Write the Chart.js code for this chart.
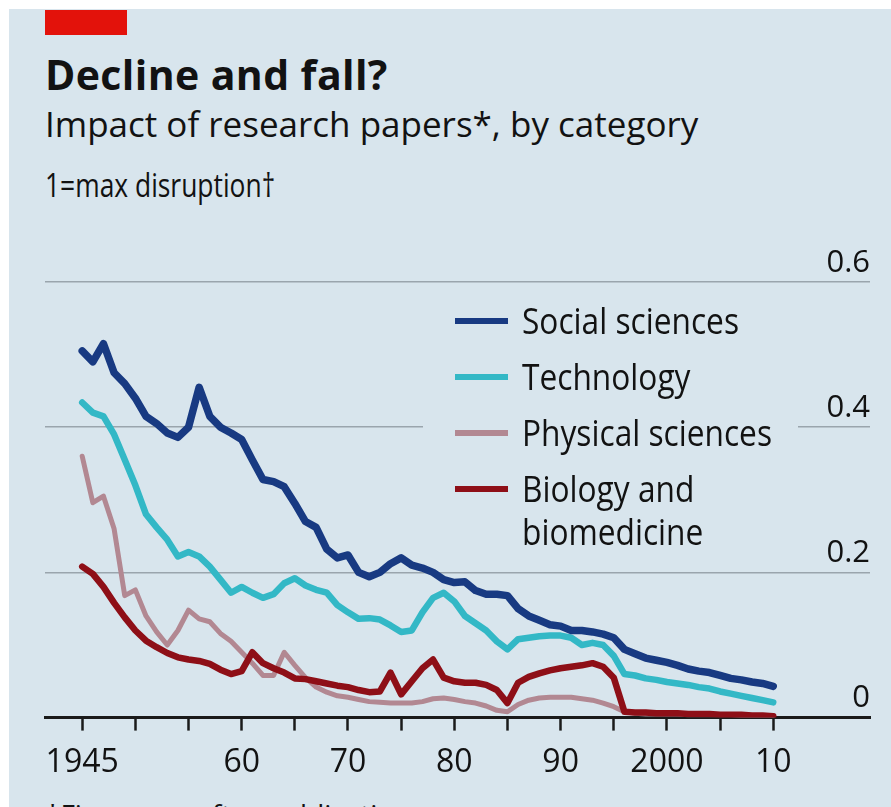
<!DOCTYPE html>
<html lang="en">
<head>
  <meta charset="UTF-8" />
  <title>Decline and fall?</title>
  <script src="https://cdn.jsdelivr.net/npm/chart.js"></script>
  <style>
    body { margin: 0; background: #fff; width: 891px; height: 807px; overflow: hidden; font-family: "Open Sans", sans-serif; }
    #panel { position: absolute; left: 9px; top: 9px; width: 882px; height: 798px; background: #d8e5ed; }
    #redbar { position: absolute; left: 45px; top: 10px; width: 82px; height: 25px; background: #e3120b; }
    .txt { position: absolute; left: 45px; color: #121212; white-space: nowrap; line-height: 1; }
    #title { top: 54px; font-size: 41px; font-weight: 700; letter-spacing: 0.4px; }
    #subtitle { top: 106px; font-size: 35px; }
    #unit { top: 168px; font-size: 33px; transform: scaleX(0.8); transform-origin: left top; }
    #note { top: 800px; font-size: 28px; }
    #chart { position: absolute; left: 0; top: 0; }
  </style>
</head>
<body>
  <div id="panel"></div>
  <div id="redbar"></div>
  <div class="txt" id="title">Decline and fall?</div>
  <div class="txt" id="subtitle">Impact of research papers*, by category</div>
  <div class="txt" id="unit">1=max disruption†</div>
  <div class="txt" id="note">*Five years after publication</div>
  <canvas id="chart" width="891" height="807"></canvas>

  <script>
    // Data (annual, 1945-2010)
    const years = [
      1945, 1946, 1947, 1948, 1949, 1950, 1951, 1952, 1953, 1954, 1955,
      1956, 1957, 1958, 1959, 1960, 1961, 1962, 1963, 1964, 1965, 1966,
      1967, 1968, 1969, 1970, 1971, 1972, 1973, 1974, 1975, 1976, 1977,
      1978, 1979, 1980, 1981, 1982, 1983, 1984, 1985, 1986, 1987, 1988,
      1989, 1990, 1991, 1992, 1993, 1994, 1995, 1996, 1997, 1998, 1999,
      2000, 2001, 2002, 2003, 2004, 2005, 2006, 2007, 2008, 2009, 2010
    ];

    const socialSciences = [
      0.505, 0.490, 0.515, 0.475, 0.460, 0.440, 0.415, 0.405, 0.392, 0.386, 0.400,
      0.455, 0.415, 0.400, 0.392, 0.383, 0.355, 0.328, 0.325, 0.318, 0.295, 0.270,
      0.262, 0.232, 0.220, 0.224, 0.200, 0.194, 0.200, 0.212, 0.220, 0.210, 0.206,
      0.200, 0.190, 0.186, 0.187, 0.175, 0.170, 0.170, 0.168, 0.150, 0.140, 0.134,
      0.128, 0.126, 0.120, 0.120, 0.118, 0.115, 0.110, 0.094, 0.088, 0.082, 0.079,
      0.076, 0.072, 0.067, 0.064, 0.062, 0.058, 0.054, 0.052, 0.049, 0.047, 0.043
    ];

    const technology = [
      0.434, 0.420, 0.415, 0.390, 0.355, 0.320, 0.280, 0.262, 0.245, 0.222, 0.228,
      0.222, 0.208, 0.190, 0.172, 0.180, 0.172, 0.165, 0.170, 0.185, 0.192, 0.182,
      0.176, 0.172, 0.155, 0.145, 0.136, 0.137, 0.135, 0.127, 0.118, 0.120, 0.145,
      0.165, 0.172, 0.160, 0.140, 0.130, 0.120, 0.105, 0.094, 0.108, 0.110, 0.112,
      0.113, 0.113, 0.110, 0.100, 0.103, 0.100, 0.085, 0.060, 0.058, 0.054, 0.052,
      0.049, 0.047, 0.045, 0.042, 0.040, 0.036, 0.033, 0.030, 0.027, 0.024, 0.021
    ];

    const physicalSciences = [
      0.360, 0.296, 0.305, 0.260, 0.168, 0.176, 0.140, 0.118, 0.100, 0.120, 0.148,
      0.136, 0.132, 0.116, 0.105, 0.090, 0.075, 0.058, 0.058, 0.090, 0.072, 0.055,
      0.042, 0.035, 0.030, 0.028, 0.025, 0.022, 0.021, 0.020, 0.020, 0.020, 0.022,
      0.026, 0.027, 0.025, 0.022, 0.020, 0.016, 0.010, 0.008, 0.018, 0.024, 0.027,
      0.028, 0.028, 0.028, 0.026, 0.024, 0.020, 0.015, 0.008, 0.006, 0.005, 0.005,
      0.005, 0.005, 0.004, 0.004, 0.004, 0.004, 0.004, 0.003, 0.003, 0.003, 0.003
    ];

    const biology = [
      0.208, 0.198, 0.180, 0.158, 0.138, 0.120, 0.106, 0.097, 0.089, 0.083, 0.080,
      0.078, 0.074, 0.066, 0.060, 0.064, 0.090, 0.075, 0.068, 0.062, 0.054, 0.053,
      0.050, 0.047, 0.044, 0.042, 0.038, 0.035, 0.036, 0.062, 0.032, 0.050, 0.068,
      0.080, 0.055, 0.050, 0.048, 0.048, 0.045, 0.038, 0.020, 0.048, 0.056, 0.061,
      0.065, 0.068, 0.070, 0.072, 0.075, 0.070, 0.055, 0.008, 0.007, 0.007, 0.006,
      0.006, 0.006, 0.005, 0.005, 0.005, 0.004, 0.004, 0.004, 0.003, 0.003, 0.002
    ];

    const seriesNames = ['Social sciences', 'Technology', 'Physical sciences', ['Biology and', 'biomedicine']];
    const seriesColors = ['#183a82', '#33b8c6', '#b28892', '#8e0f17'];

    const tickYears = [1945, 1950, 1955, 1960, 1965, 1970, 1975, 1980, 1985, 1990, 1995, 2000, 2005, 2010];
    const tickText  = ['1945', '', '', '60', '', '70', '', '80', '', '90', '', '2000', '', '10'];
    const yTicks = [0, 0.2, 0.4, 0.6];
    const yTickText = ['0', '0.2', '0.4', '0.6'];

    const bg = '#d8e5ed';
    const toPoints = vals => vals.map((v, i) => ({ x: years[i], y: v }));

    // Legend drawn as a boxed block inside the plot, like the original
    const inlineLegend = {
      id: 'inlineLegend',
      beforeDatasetsDraw(chart) {
        const ctx = chart.ctx;
        ctx.save();
        ctx.fillStyle = bg;
        ctx.fillRect(423, 292, 375, 266);

        let y = 321;
        seriesNames.forEach((name, i) => {
          ctx.strokeStyle = seriesColors[i];
          ctx.lineWidth = 6;
          ctx.beginPath();
          ctx.moveTo(455, y);
          ctx.lineTo(508, y);
          ctx.stroke();

          const lines = Array.isArray(name) ? name : [name];
          ctx.fillStyle = '#121212';
          ctx.font = '36px "Open Sans"';
          ctx.textBaseline = 'alphabetic';
          lines.forEach((t, j) => {
            ctx.save();
            ctx.translate(522, y + 13 + j * 43);
            ctx.scale(0.88, 1);
            ctx.fillText(t, 0, 0);
            ctx.restore();
          });
          y += 56;
        });
        ctx.restore();
      }
    };

    const mkSet = (i, data, width, order) => ({
      label: Array.isArray(seriesNames[i]) ? seriesNames[i].join(' ') : seriesNames[i],
      data: toPoints(data),
      borderColor: seriesColors[i],
      borderWidth: width,
      pointRadius: 0,
      tension: 0,
      borderJoinStyle: 'round',
      borderCapStyle: 'round',
      fill: false,
      order
    });

    new Chart(document.getElementById('chart').getContext('2d'), {
      type: 'line',
      data: {
        datasets: [
          mkSet(0, socialSciences, 7.5, 0),
          mkSet(1, technology, 6.5, 1),
          mkSet(2, physicalSciences, 5, 3),
          mkSet(3, biology, 6.5, 2)
        ]
      },
      options: {
        responsive: false,
        animation: false,
        layout: { padding: { top: 282, left: 45, right: 21, bottom: 11 } },
        plugins: {
          legend: { display: false },
          tooltip: { enabled: false }
        },
        scales: {
          x: {
            type: 'linear',
            min: 1941.5,
            max: 2019.1,
            afterBuildTicks: s => { s.ticks = tickYears.map(v => ({ value: v })); },
            ticks: {
              autoSkip: false,
              maxRotation: 0,
              padding: 13.5,
              color: '#121212',
              font: { family: 'Open Sans', size: 32 },
              callback: (v, i) => tickText[i]
            },
            grid: { drawOnChartArea: false, drawTicks: true, tickLength: 13, tickWidth: 2.5, tickColor: '#1a1a1a' },
            border: { display: true, color: '#1a1a1a', width: 3 }
          },
          y: {
            position: 'right',
            min: 0,
            max: 0.6,
            afterBuildTicks: s => { s.ticks = yTicks.map(v => ({ value: v })); },
            ticks: {
              mirror: true,
              padding: 0,
              labelOffset: -19,
              color: '#121212',
              font: { family: 'Open Sans', size: 31 },
              callback: (v, i) => yTickText[i]
            },
            grid: { color: '#9aa5ad', lineWidth: 1.5, drawTicks: false },
            border: { display: false }
          }
        }
      },
      plugins: [inlineLegend]
    });
  </script>
</body>
</html>
